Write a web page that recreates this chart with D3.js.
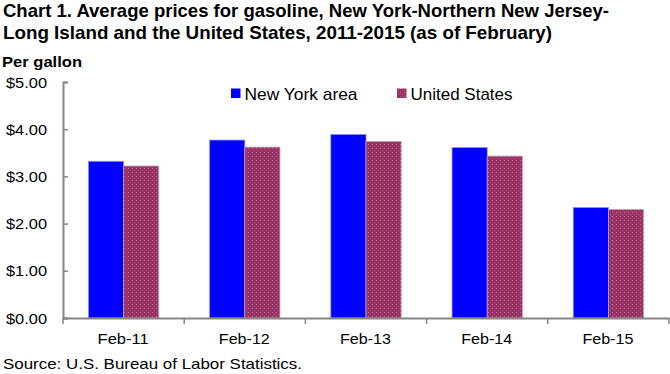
<!DOCTYPE html>
<html><head><meta charset="utf-8">
<script src="https://cdn.jsdelivr.net/npm/d3@7"></script>
<style>body{margin:0;background:#fff}svg{display:block;font-family:"Liberation Sans",Arial,sans-serif}</style>
</head><body><svg id="c" width="670" height="374"></svg>
<script>
const categories = ["Feb-11","Feb-12","Feb-13","Feb-14","Feb-15"];
const seriesNames = ["New York area","United States"];
const newYork = [3.32,3.77,3.89,3.61,2.34];
const unitedStates = [3.22,3.62,3.74,3.43,2.30];
const yTicks = [0,1,2,3,4,5];

const svg = d3.select("#c");
const mLeft = 63, mRight = 669, mTop = 82, mBottom = 318;
const x = d3.scaleBand().domain(categories).range([mLeft, mRight]).paddingInner(0.42).paddingOuter(0.21);
const xs = d3.scaleBand().domain(seriesNames).range([0, x.bandwidth()]);
const y = d3.scaleLinear().domain([0,5]).range([mBottom, mTop]);

const defs = svg.append("defs");
const pat = defs.append("pattern").attr("id","dots").attr("width",4).attr("height",4).attr("patternUnits","userSpaceOnUse");
pat.append("rect").attr("width",4).attr("height",4).attr("fill","#993366");
pat.append("rect").attr("x",0).attr("y",0).attr("width",1).attr("height",1).attr("fill","#b56a8c");
pat.append("rect").attr("x",2).attr("y",2).attr("width",1).attr("height",1).attr("fill","#a4507a");

const colors = {"New York area":"#0000ff","United States":"url(#dots)"};
const data = [newYork, unitedStates];

// title
const title = svg.append("g").attr("font-weight","bold").attr("font-size",18.5).attr("fill","#000");
title.append("text").attr("x",3).attr("y",17).attr("textLength",606).attr("lengthAdjust","spacingAndGlyphs")
  .text("Chart 1. Average prices for gasoline, New York-Northern New Jersey-");
title.append("text").attr("x",3).attr("y",39).attr("textLength",549).attr("lengthAdjust","spacingAndGlyphs")
  .text("Long Island and the United States, 2011-2015 (as of February)");
svg.append("text").attr("x",2).attr("y",67).attr("font-weight","bold").attr("font-size",15)
  .attr("textLength",80).attr("lengthAdjust","spacingAndGlyphs").text("Per gallon");

// bars
seriesNames.forEach((s,i)=>{
  svg.append("g").selectAll("rect").data(categories).join("rect")
    .attr("x", d=>x(d)+xs(s))
    .attr("y", (d,j)=>y(data[i][j]))
    .attr("width", xs.bandwidth())
    .attr("height", (d,j)=>y(0)-y(data[i][j]))
    .attr("fill", colors[s])
    .attr("stroke", i===0 ? "#8c8cff" : "#c49ab4").attr("stroke-width",0.8);
});

// y axis
const ya = svg.append("g").attr("transform",`translate(${mLeft},0)`)
  .call(d3.axisRight(y).tickValues(yTicks).tickSize(5).tickFormat(""));
ya.select(".domain").attr("stroke","#868686").attr("stroke-width",2);
ya.selectAll(".tick line").attr("stroke","#868686").attr("stroke-width",1.5);
svg.append("g").selectAll("text").data(yTicks).join("text")
  .attr("x",6).attr("y",d=>y(d)+5.5).attr("font-size",15).attr("fill","#000")
  .attr("textLength",41).attr("lengthAdjust","spacingAndGlyphs")
  .text(d=>"$"+d.toFixed(2));

// x axis
const xa = svg.append("g").attr("transform",`translate(0,${mBottom})`)
  .call(d3.axisBottom(x).tickSize(0).tickSizeOuter(0).tickFormat(""));
xa.select(".domain").attr("stroke","#868686").attr("stroke-width",2);
const bounds = categories.map(c=>x(c)-x.step()*x.paddingInner()/2).concat([mRight]);
xa.selectAll(".sep").data(bounds).join("line").attr("class","sep")
  .attr("x1",d=>d).attr("x2",d=>d).attr("y1",0).attr("y2",6).attr("stroke","#868686").attr("stroke-width",1.5);
svg.append("g").selectAll("text").data(categories).join("text")
  .attr("x",d=>x(d)+x.bandwidth()/2-26).attr("y",344).attr("font-size",15.5)
  .attr("textLength",51).attr("lengthAdjust","spacingAndGlyphs").text(d=>d);

// legend
const lg = svg.append("g");
const lx = [231, 397];
const lw = [113, 102];
seriesNames.forEach((s,i)=>{
  lg.append("rect").attr("x",lx[i]).attr("y",88.5).attr("width",9.5).attr("height",9.5).attr("fill",colors[s]);
  lg.append("text").attr("x",lx[i]+13.5).attr("y",99.5).attr("font-size",17)
    .attr("textLength",lw[i]).attr("lengthAdjust","spacingAndGlyphs").text(s);
});

svg.append("text").attr("x",3).attr("y",369).attr("font-size",15)
  .attr("textLength",299).attr("lengthAdjust","spacingAndGlyphs").text("Source: U.S. Bureau of Labor Statistics.");
</script></body></html>
